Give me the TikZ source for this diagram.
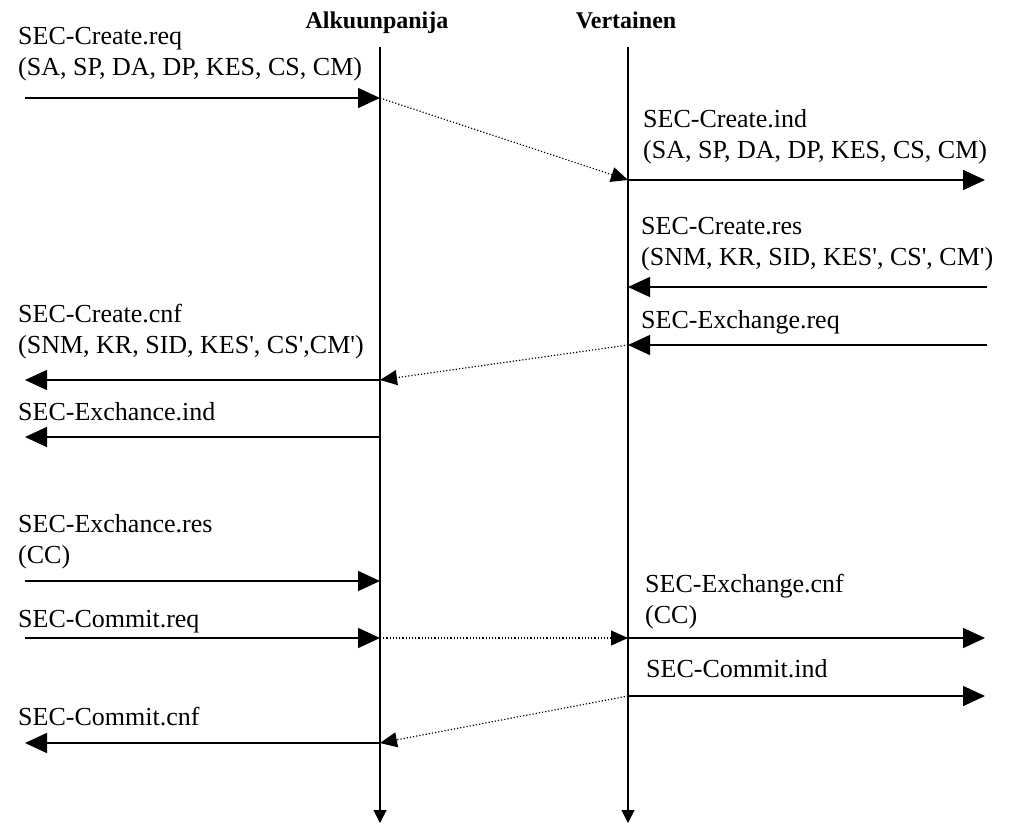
\documentclass[tikz,border=0pt]{standalone}
\usepackage{fontspec}
\setmainfont{Liberation Serif}
\usetikzlibrary{arrows.meta}

\newcommand{\pr}{\textquotesingle}

\begin{document}
\begin{tikzpicture}[x=1pt, y=-1pt, font=\fontsize{26}{31}\selectfont,
  msg/.style={line width=1.5pt, -{Triangle[length=22pt,width=20pt]}},
  sig/.style={dotted, line width=1.2pt, -{Triangle[length=17pt,width=15pt]}},
  life/.style={line width=1.5pt, -{Triangle[length=13pt,width=13pt]}},
  lbl/.style={anchor=base west, align=left, inner sep=0pt},
  head/.style={font=\fontsize{24}{28}\selectfont\bfseries, anchor=base, inner sep=0pt}]

\useasboundingbox (0,0) rectangle (1011,825);

% Headers
\node[head] (ini) at (377,28) {Alkuunpanija};
\node[head] (ver) at (626,28) {Vertainen};

% Lifelines
\coordinate (initop) at (380,47);
\coordinate (inibot) at (380,823);
\coordinate (vertop) at (628,47);
\coordinate (verbot) at (628,823);
\draw[life] (initop) -- (inibot);
\draw[life] (vertop) -- (verbot);

% Points on the lifelines
\coordinate (i1) at (380,98);
\coordinate (v1) at (628,180);
\coordinate (v2) at (628,287);
\coordinate (v3) at (628,345);
\coordinate (i2) at (380,380);
\coordinate (i3) at (380,437);
\coordinate (i4) at (380,581);
\coordinate (i5) at (380,638);
\coordinate (v4) at (628,638);
\coordinate (v5) at (628,696);
\coordinate (i6) at (380,743);

% Outer ends
\coordinate (l1) at (25,98);
\coordinate (r1) at (985,180);
\coordinate (r2) at (987,287);
\coordinate (r3) at (987,345);
\coordinate (l2) at (25,380);
\coordinate (l3) at (25,437);
\coordinate (l4) at (25,581);
\coordinate (l5) at (25,638);
\coordinate (r4) at (985,638);
\coordinate (r5) at (985,696);
\coordinate (l6) at (25,743);

% Labels (base = last line)
\node[lbl] (creq) at (18,75) {SEC-Create.req\\(SA, SP, DA, DP, KES, CS, CM)};
\node[lbl] (cind) at (643,158) {SEC-Create.ind\\(SA, SP, DA, DP, KES, CS, CM)};
\node[lbl] (cres) at (641,265) {SEC-Create.res\\(SNM, KR, SID, KES\pr, CS\pr, CM\pr)};
\node[lbl] (xreq) at (641,328) {SEC-Exchange.req};
\node[lbl] (ccnf) at (18,353) {SEC-Create.cnf\\(SNM, KR, SID, KES\pr, CS\pr,CM\pr)};
\node[lbl] (xind) at (18,420) {SEC-Exchance.ind};
\node[lbl] (xres) at (18,563) {SEC-Exchance.res\\(CC)};
\node[lbl] (mreq) at (18,627) {SEC-Commit.req};
\node[lbl] (xcnf) at (645,623) {SEC-Exchange.cnf\\(CC)};
\node[lbl] (mind) at (646,677) {SEC-Commit.ind};
\node[lbl] (mcnf) at (18,725) {SEC-Commit.cnf};

% Messages
\draw[msg] (l1) -- (i1);
\draw[sig] (i1) -- (v1);
\draw[msg] (v1) -- (r1);
\draw[msg] (r2) -- (v2);
\draw[msg] (r3) -- (v3);
\draw[sig] (v3) -- (i2);
\draw[msg] (i2) -- (l2);
\draw[msg] (i3) -- (l3);
\draw[msg] (l4) -- (i4);
\draw[msg] (l5) -- (i5);
\draw[sig] (i5) -- (v4);
\draw[msg] (v4) -- (r4);
\draw[msg] (v5) -- (r5);
\draw[sig] (v5) -- (i6);
\draw[msg] (i6) -- (l6);

\end{tikzpicture}
\end{document}
